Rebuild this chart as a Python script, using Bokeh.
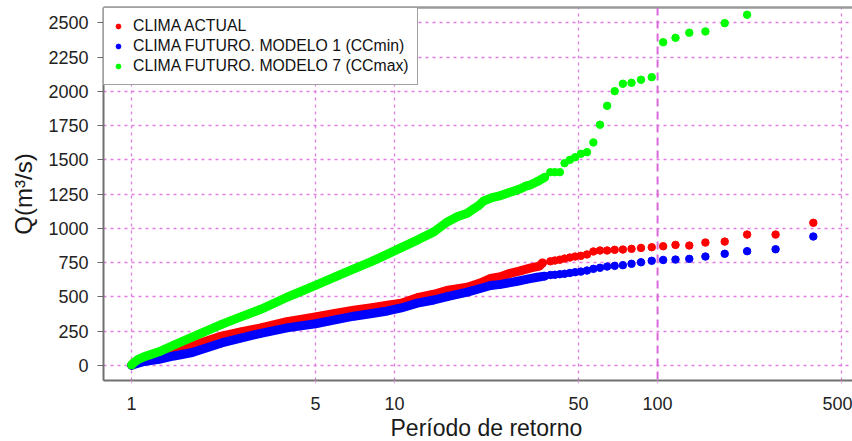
from bokeh.plotting import figure
from bokeh.models import (Range1d, FixedTicker, PrintfTickFormatter, LinearAxis,
                          Span, Legend, LegendItem, Title)
from bokeh.embed import file_html
from bokeh.resources import INLINE

# ---- data ----
series_labels = ["CLIMA ACTUAL", "CLIMA FUTURO. MODELO 1 (CCmin)", "CLIMA FUTURO. MODELO 7 (CCmax)"]

# sparse upper tail (individually visible points), return periods shared by all series
t_tail = [391, 281, 219, 180, 152, 132, 117, 105, 95, 86.5, 79.6, 73.8, 68.7, 64.3,
          60.4, 57, 53.9, 51.1, 48.6, 46.4, 44.3, 42.5, 40.7, 39.1]
q_tail_actual = [1041, 955, 955, 904, 897, 875, 880, 870, 863, 858, 851, 846, 844, 839,
                 839, 832, 810, 800, 795, 788, 780, 772, 766, 760]
q_tail_min = [941, 848, 834, 815, 795, 778, 773, 770, 764, 753, 742, 732, 727, 722,
              713, 705, 693, 685, 681, 675, 669, 666, 662, 660]
t_tail_max = [219, 180, 152, 132, 117, 105, 95, 86.5, 79.6, 73.8, 68.7, 64.3,
              60.4, 57, 53.9, 51.1, 48.6, 46.4, 44.3, 42.5, 40.7, 39.1]
q_tail_max = [2558, 2497, 2436, 2427, 2390, 2358, 2103, 2084, 2062, 2055, 2001, 1894,
              1756, 1627, 1556, 1544, 1519, 1500, 1476, 1410, 1410, 1410]

# dense part of each series (overlapping points, read along the band)
t_dense_actual = [1.0006, 1.02, 1.06, 1.12, 1.27, 1.45, 1.7, 2.2, 2.6, 3.1, 3.9, 5.0, 6.0, 7.0,
                  8.2, 9.4, 10.6, 12.2, 14.1, 16.0, 18.9, 21.0, 23.2, 25.3, 27.0, 30.0, 33.0,
                  35.5, 36.5]
q_dense_actual = [3, 12, 28, 45, 75, 115, 145, 215, 245, 275, 320, 355, 382, 403,
                  422, 440, 455, 495, 520, 550, 571, 600, 635, 648, 668, 690, 712,
                  725, 748]
t_dense_min = [1.0006, 1.02, 1.06, 1.12, 1.27, 1.45, 1.7, 2.2, 2.6, 3.1, 3.9, 5.0, 6.0, 7.0,
               8.2, 9.4, 10.6, 12.2, 14.1, 16.0, 18.9, 21.0, 23.2, 25.3, 29.3, 32.0, 34.9, 37.2]
q_dense_min = [2, 8, 18, 30, 45, 70, 95, 165, 200, 235, 275, 305, 335, 360,
               380, 398, 420, 455, 478, 505, 535, 560, 584, 592, 615, 630, 644, 652]
t_dense_max = [1.0006, 1.02, 1.06, 1.12, 1.27, 1.45, 1.7, 2.2, 2.6, 3.1, 3.9, 5.0, 6.0, 7.0,
               8.2, 9.4, 10.6, 12.2, 14.1, 15.8, 17.3, 18.9, 20.0, 20.9, 21.8, 23.5,
               25.3, 26.8, 28.3, 30.1, 31.5, 32.9, 34.9, 37.2]
q_dense_max = [5, 22, 45, 65, 100, 150, 207, 300, 355, 410, 498, 585, 650, 705,
               760, 812, 860, 915, 975, 1045, 1085, 1111, 1143, 1167, 1200, 1225,
               1240, 1257, 1271, 1289, 1308, 1318, 1342, 1373]

x_ticks = [1, 5, 10, 50, 100, 500]
x_grid = [1, 5, 10, 50, 500]
x_marked = 100
y_ticks = [0, 250, 500, 750, 1000, 1250, 1500, 1750, 2000, 2250, 2500]
x_title = "Período de retorno"
y_title = "Q(m³/s)"

colors = ["#ff0000", "#0000ff", "#00ff00"]
FONT = "Liberation Sans"

p = figure(width=852, height=441, x_axis_type="log",
           x_range=Range1d(0.782, 551), y_range=Range1d(-109, 2611),
           output_backend="svg", toolbar_location=None,
           min_border_left=103, min_border_right=0, min_border_top=7, min_border_bottom=61)
p.outline_line_color = None
p.background_fill_color = "white"

# grid
p.ygrid.ticker = FixedTicker(ticks=y_ticks)
p.xgrid.ticker = FixedTicker(ticks=x_grid)
for g in (p.xgrid, p.ygrid):
    g.grid_line_color = "#e27ce2"
    g.grid_line_dash = "3 4"
    g.grid_line_width = 1.3
p.add_layout(Span(location=x_marked, dimension="height", line_color="#d968d9",
                  line_dash="8 5", line_width=2))

# data
renderers = []
sets = [
    (t_dense_actual, q_dense_actual, t_tail, q_tail_actual),
    (t_dense_min, q_dense_min, t_tail, q_tail_min),
    (t_dense_max, q_dense_max, t_tail_max, q_tail_max),
]
for (td, qd, tt, qt), c in zip(sets, colors):
    p.line(td, qd, line_color=c, line_width=9, line_cap="round", line_join="round")
    r = p.scatter(td + tt, qd + qt, size=7.5, fill_color=c, line_color=c, marker="circle")
    renderers.append(r)

# axes
xa = p.xaxis[0]
xa.ticker = FixedTicker(ticks=x_ticks)
xa.formatter = PrintfTickFormatter(format="%d")
xa.major_tick_out = 3
xa.major_tick_in = 0
xa.minor_tick_out = 0
xa.minor_tick_in = 0
xa.major_tick_line_color = "#e0a0e0"
xa.major_label_standoff = 13

ya = p.yaxis[0]
ya.ticker = FixedTicker(ticks=y_ticks)
ya.axis_label = y_title
ya.major_tick_out = 6
ya.major_tick_in = 0
ya.minor_tick_out = 0
ya.minor_tick_in = 0
ya.major_tick_line_color = "#666666"
ya.major_label_standoff = 9
ya.axis_label_standoff = 8

for a in (xa, ya):
    a.axis_line_color = "#707070"
    a.axis_line_width = 2
    a.major_label_text_font = FONT
    a.major_label_text_font_size = "18px"
    a.major_label_text_color = "#222222"
    a.axis_label_text_font = FONT
    a.axis_label_text_font_style = "normal"
    a.axis_label_text_color = "#1a1a1a"
ya.axis_label_text_font_size = "24px"

# x-axis title as a title below the axis, placed where the original (wider) plot had it
p.add_layout(Title(text=x_title, align="left", offset=287, standoff=0,
                   text_font=FONT, text_font_size="23px", text_font_style="normal",
                   text_color="#1a1a1a", text_line_height=0.6), "below")

top = LinearAxis(ticker=FixedTicker(ticks=[]), major_tick_out=0, major_tick_in=0,
                 minor_tick_out=0, minor_tick_in=0, major_label_text_font_size="0px",
                 axis_line_color="#9a9a9a", axis_line_width=2.5)
p.add_layout(top, "above")

legend = Legend(items=[LegendItem(label=l, renderers=[r]) for l, r in zip(series_labels, renderers)],
                location="top_left", margin=0, padding=8, spacing=0,
                glyph_width=12, glyph_height=20, label_height=20, label_standoff=9,
                label_text_font=FONT, label_text_font_size="15.8px", label_text_color="#111111",
                border_line_color="#444444", border_line_width=1.5,
                background_fill_color="white", background_fill_alpha=1.0)
p.add_layout(legend)

open("out.html", "w").write(file_html(p, INLINE))
